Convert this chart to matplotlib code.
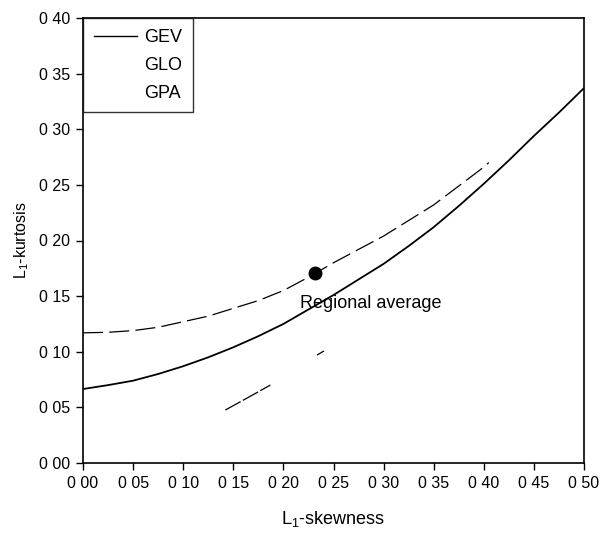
import numpy as np
import matplotlib
matplotlib.use("Agg")
import matplotlib.pyplot as plt
from matplotlib.lines import Line2D

plt.rcParams['font.family'] = ['Liberation Sans', 'DejaVu Sans']
plt.rcParams['mathtext.default'] = 'regular'

# L-skewness / L-kurtosis curves
gev_t3 = [0.00, 0.025, 0.05, 0.075, 0.10, 0.125, 0.15, 0.175, 0.20, 0.225, 0.25,
          0.275, 0.30, 0.325, 0.35, 0.375, 0.40, 0.425, 0.45, 0.475, 0.50]
gev_t4 = [0.0665, 0.070, 0.074, 0.080, 0.087, 0.095, 0.104, 0.114, 0.125, 0.138, 0.151,
          0.165, 0.179, 0.195, 0.212, 0.231, 0.251, 0.272, 0.294, 0.315, 0.337]

glo_t3 = [0.00, 0.025, 0.05, 0.075, 0.10, 0.125, 0.15, 0.175, 0.20, 0.225, 0.25,
          0.275, 0.30, 0.325, 0.35, 0.375, 0.40, 0.405]
glo_t4 = [0.117, 0.1175, 0.119, 0.122, 0.127, 0.132, 0.139, 0.146, 0.155, 0.167, 0.180,
          0.192, 0.204, 0.218, 0.232, 0.249, 0.266, 0.270]

gpa_t3 = [0.142, 0.165, 0.187, np.nan, 0.2335, 0.2405]
gpa_t4 = [0.0476, 0.059, 0.0701, np.nan, 0.097, 0.1007]

region_t3 = [0.2315]
region_t4 = [0.171]

xticks = [0.00, 0.05, 0.10, 0.15, 0.20, 0.25, 0.30, 0.35, 0.40, 0.45, 0.50]
xticklabels = ["0 00", "0 05", "0 10", "0 15", "0 20", "0 25", "0 30", "0 35", "0 40", "0 45", "0 50"]
yticks = [0.00, 0.05, 0.10, 0.15, 0.20, 0.25, 0.30, 0.35, 0.40]
yticklabels = ["0 00", "0 05", "0 10", "0 15", "0 20", "0 25", "0 30", "0 35", "0 40"]

fig = plt.figure(figsize=(6.02, 5.34), dpi=100)
ax = fig.add_axes([83/602, 1-463/534, 501/602, 445/534])

ax.plot(gev_t3, gev_t4, color='black', lw=1.3, solid_capstyle='butt')
ax.plot(glo_t3, glo_t4, color='black', lw=0.9, linestyle=(0, (16, 5)))
ax.plot(gpa_t3, gpa_t4, color='black', lw=0.9, linestyle=(0, (14, 2)))
ax.plot(region_t3, region_t4, 'o', color='black', ms=9)
ax.text(0.217, 0.143, "Regional average", fontsize=13, ha='left', va='center')

ax.set_xlim(0, 0.5)
ax.set_ylim(0, 0.4)
ax.set_xticks(xticks)
ax.set_xticklabels(xticklabels)
ax.set_yticks(yticks)
ax.set_yticklabels(yticklabels)
ax.tick_params(direction='out', length=5, width=1, labelsize=11.5, pad=4,
               top=False, right=False)
for s in ax.spines.values():
    s.set_linewidth(1.2)
    s.set_color('black')

ax.set_xlabel("L$_1$-skewness", fontsize=13, labelpad=13)
ax.set_ylabel("L$_1$-kurtosis", fontsize=11.5, labelpad=6)

handles = [Line2D([], [], color='black', lw=1.0),
           Line2D([], [], color='none', lw=1.0),
           Line2D([], [], color='none', lw=1.0)]
leg = ax.legend(handles, ["GEV", "GLO", "GPA"], loc='upper left',
                bbox_to_anchor=(0.0, 1.0), fontsize=13, frameon=True,
                fancybox=False, edgecolor='black', borderaxespad=0.0,
                handlelength=2.4, handletextpad=0.4, labelspacing=0.6,
                borderpad=0.6)
leg.get_frame().set_linewidth(1.0)

fig.savefig("out.png", dpi=100)
